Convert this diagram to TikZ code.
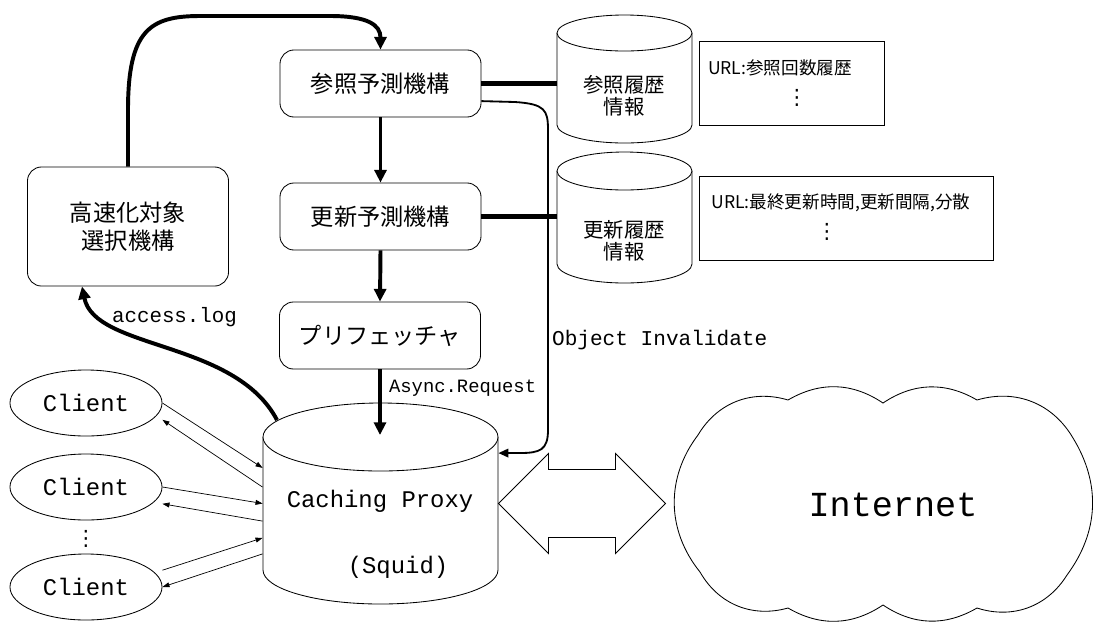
\documentclass[tikz,border=0pt]{standalone}
\usepackage{fontspec}
\setmonofont{Liberation Mono}
\newfontfamily\jpfont{Noto Sans CJK JP}
\newfontfamily\symfont{DejaVu Sans}
\usepackage{tikz}
\usetikzlibrary{arrows.meta,shapes.geometric}
\newcommand{\pxu}{0.025cm}
% db cylinder: name, cx, top y, bottom y, rx, ry
\newcommand{\dbcyl}[6]{%
  \draw[fill=white] (#2-#5,#3) -- (#2-#5,#4) arc[start angle=180,end angle=360,x radius=#5*\pxu,y radius=#6*\pxu] -- (#2+#5,#3);
  \draw[fill=white] (#2,#3) ellipse[x radius=#5*\pxu,y radius=#6*\pxu];
  \node[inner sep=0,minimum width=2*#5*\pxu,minimum height=(#4-#3+2*#6)*\pxu] (#1) at (#2,{(#3+#4)/2}) {};}

\begin{document}
\begin{tikzpicture}[x=0.025cm,y=-0.025cm,line width=0.6pt,
  box/.style={draw, rounded corners=0.35cm, minimum width=5.025cm, minimum height=1.675cm, align=center, font=\jpfont\fontsize{16.5}{20}\selectfont},
  client/.style={draw, ellipse, inner sep=0, minimum width=3.8cm, minimum height=1.65cm, font=\ttfamily\fontsize{17}{20}\selectfont},
  dbtext/.style={align=center, font=\jpfont\fontsize{14.5}{15.6}\selectfont},
  urltext/.style={font=\jpfont\fontsize{12.5}{15}\selectfont},
  vdotsnode/.style={inner sep=0, font=\symfont\fontsize{15}{18}\selectfont},
  thickarrow/.style={line width=2.8pt, -{Triangle[length=9pt,width=8.5pt]}},
  link/.style={line width=3.4pt},
  invarrow/.style={line width=1.3pt, -{Triangle[length=7pt,width=6pt]}},
  carrow/.style={line width=0.5pt, -{Triangle[length=5pt,width=3.5pt]}}]
\useasboundingbox (0,0) rectangle (1093,621);

% prediction side
\node[box] (refbox) at (380.5,83.5) {参照予測機構};
\node[box] (updbox) at (380.5,216.5) {更新予測機構};
\node[box] (prebox) at (380,335.5) {プリフェッチャ};
\node[box, minimum height=2.975cm] (selbox) at (128,226.5) {高速化対象\\選択機構};

% history db
\dbcyl{refdb}{624.5}{33}{125}{67.5}{18}
\dbcyl{upddb}{624.5}{171}{264}{67.5}{19}
\node[dbtext] (reflabel) at (624,96) {参照履歴\\情報};
\node[dbtext] (updlabel) at (624,241) {更新履歴\\情報};

\node[draw, minimum width=4.625cm, minimum height=2.1cm] (refinfo) at (791.5,83) {};
\node[urltext] (reftext) at (780,68) {URL:参照回数履歴};
\node[vdotsnode] (refdots) at (797,98) {⋮};
\node[draw, minimum width=7.35cm, minimum height=2.1cm] (updinfo) at (846,218) {};
\node[urltext] (updtext) at (841,203) {URL:最終更新時間,更新間隔,分散};
\node[vdotsnode] (upddots) at (827,232) {⋮};

% proxy
\dbcyl{proxy}{380.5}{437}{570}{117.5}{34}
\node[font=\ttfamily\fontsize{17}{20}\selectfont] (proxytext) at (380,501) {Caching Proxy};
\node[font=\ttfamily\fontsize{17}{20}\selectfont] (squidtext) at (398,567) {(Squid)};
\coordinate (logout) at (277,420);
\coordinate (reqin) at (380,435);

% clients
\node[client] (c1) at (86,403) {Client};
\node[client] (c2) at (86,487) {Client};
\node[client] (c3) at (86,587) {Client};
\node[vdotsnode] (cdots) at (86,539) {⋮};

% internet cloud
\draw (700,572) to[bend left=38] (698,435) to[bend left=38] (788,400) to[bend left=32] (883,403) to[bend left=32] (977,400) to[bend left=38] (1073,438) to[bend left=34] (1067,575) to[bend left=38] (977,608) to[bend left=32] (883,605) to[bend left=32] (788,608) to[bend left=38] (700,572);
\node[font=\ttfamily\fontsize{25}{30}\selectfont] (inet) at (893,505) {Internet};

% connectors
\draw[thickarrow] (selbox.north) -- (128,110) .. controls (128,30) and (150,16) .. (200,16) -- (330,16) .. controls (368,16) and (380.5,25) .. (refbox.north);
\draw[thickarrow] (refbox.south) -- (updbox.north);
\draw[thickarrow] (updbox.south) -- (prebox.north);
\draw[thickarrow] (prebox.south) -- (reqin);
\node[anchor=west, font=\ttfamily\fontsize{13.4}{16}\selectfont] (reqlabel) at (384,388) {Async.Request};
\draw[link] (refbox.east) -- (refbox.east -| refdb.west);
\draw[link] (updbox.east) -- (updbox.east -| upddb.west);
\draw[invarrow] ([yshift=-0.44cm]refbox.east) -- (515,102) .. controls (545,104) and (548,110) .. (548,130) -- (548,430) .. controls (548,450) and (540,453) .. (520,453) -- ([yshift=1.26cm]proxy.east);
\node[anchor=west, font=\ttfamily\fontsize{15}{18}\selectfont] (invlabel) at (547,340) {Object Invalidate};
\draw[thickarrow] (logout) .. controls (235,340) and (95,350) .. ([xshift=-1.15cm]selbox.south);
\node[font=\ttfamily\fontsize{14.8}{18}\selectfont] (loglabel) at (174.5,317) {access.log};

\draw[carrow] (c1.east) -- ([yshift=0.89cm]proxy.west);
\draw[carrow] ([yshift=0.41cm]proxy.west) -- ([yshift=-0.42cm]c1.east);
\draw[carrow] (c2.east) -- (proxy.west);
\draw[carrow] ([yshift=-0.44cm]proxy.west) -- ([yshift=-0.42cm]c2.east);
\draw[carrow] ([yshift=0.42cm]c3.east) -- ([yshift=-0.86cm]proxy.west);
\draw[carrow] ([yshift=-1.26cm]proxy.west) -- (c3.east);

\draw (proxy.east) -- ++(50,-50) -- ++(0,16) -- ++(67,0) -- ++(0,-16) -- ++(50,50) -- ++(-50,50) -- ++(0,-16) -- ++(-67,0) -- ++(0,16) -- cycle;
\end{tikzpicture}
\end{document}
